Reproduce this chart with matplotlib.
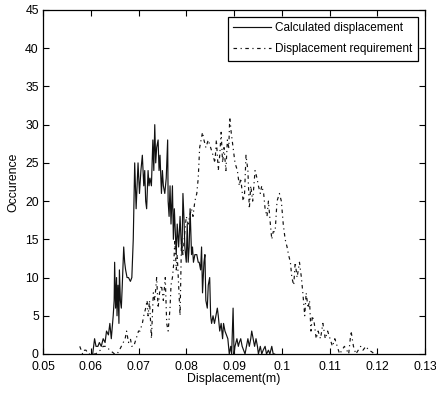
import matplotlib
matplotlib.use("Agg")
import matplotlib.pyplot as plt
from matplotlib import font_manager

# Calculated displacement (solid)
calc_x = [0.0604, 0.0608, 0.0611, 0.0615, 0.0618, 0.0622, 0.0626, 0.0630, 0.0633, 0.0637,
          0.0640, 0.0643, 0.0645, 0.0647, 0.0649, 0.0650, 0.0652, 0.0654, 0.0655, 0.0657,
          0.0659, 0.0660, 0.0662, 0.0664, 0.0666, 0.0669, 0.0671, 0.0673, 0.0676, 0.0679,
          0.0683, 0.0686, 0.0689, 0.0692, 0.0695, 0.0697, 0.0699, 0.0702, 0.0705, 0.0708,
          0.0711, 0.0713, 0.0715, 0.0717, 0.0720, 0.0722, 0.0724, 0.0727, 0.0730, 0.0732,
          0.0734, 0.0736, 0.0738, 0.0741, 0.0743, 0.0745, 0.0748, 0.0750, 0.0752, 0.0755,
          0.0758, 0.0761, 0.0762, 0.0764, 0.0766, 0.0768, 0.0771, 0.0773, 0.0775, 0.0777,
          0.0779, 0.0781, 0.0784, 0.0787, 0.0789, 0.0791, 0.0793, 0.0795, 0.0797, 0.0800,
          0.0802, 0.0804, 0.0806, 0.0808, 0.0811, 0.0813, 0.0815, 0.0818, 0.0822, 0.0825,
          0.0827, 0.0830, 0.0832, 0.0834, 0.0837, 0.0839, 0.0841, 0.0844, 0.0846, 0.0849,
          0.0851, 0.0853, 0.0856, 0.0859, 0.0862, 0.0865, 0.0867, 0.0870, 0.0873, 0.0876,
          0.0878, 0.0881, 0.0884, 0.0887, 0.0890, 0.0893, 0.0895, 0.0898, 0.0900, 0.0902,
          0.0906, 0.0909, 0.0911, 0.0914, 0.0917, 0.0920, 0.0923, 0.0926, 0.0929, 0.0932,
          0.0935, 0.0937, 0.0940, 0.0943, 0.0946, 0.0949, 0.0951, 0.0955, 0.0958, 0.0961,
          0.0965, 0.0968, 0.0972, 0.0975, 0.0979, 0.0982, 0.0985]
calc_y = [0, 2, 1, 1, 1.5, 1, 2, 1.5, 3, 2.5,
          4, 2, 3.5, 5, 7, 12, 6, 10, 5, 9,
          4, 11, 7, 6, 9, 14, 12, 11, 10, 10,
          9.5, 10, 15, 25, 19, 22, 25, 21, 24, 26,
          22, 24, 20, 19, 24, 22, 23, 22, 28, 24,
          30, 25, 27, 28, 24, 26, 21, 24, 22, 21,
          23, 28, 20, 18, 22, 17, 22, 15, 19, 16,
          13, 17, 14, 18, 15, 13, 21, 18, 14, 12,
          17, 12, 14, 19, 13, 14, 12, 13, 13, 12,
          12, 11, 14, 8, 12, 13, 7, 6, 9, 10,
          5, 4, 5, 4, 5, 6, 5, 3, 4, 2,
          4, 3, 2.5, 2, 0, 1, 0, 6, 0, 1,
          2, 1, 1.5, 2, 1, 0.5, 0, 1, 2, 1,
          2, 3, 2, 1, 2, 1, 0, 1, 0, 0.5,
          1, 0, 0.5, 0, 1, 0, 0]

# Displacement requirement (dash-dot)
req_x = [0.0577, 0.0580, 0.0583, 0.0587, 0.0590, 0.0595, 0.0602, 0.0610, 0.0620, 0.0626,
         0.0632, 0.0640, 0.0650, 0.0655, 0.0660, 0.0664, 0.0668, 0.0672, 0.0675, 0.0679,
         0.0683, 0.0686, 0.0690, 0.0695, 0.0700, 0.0703, 0.0708, 0.0711, 0.0715, 0.0718,
         0.0720, 0.0723, 0.0727, 0.0731, 0.0734, 0.0738, 0.0741, 0.0744, 0.0748, 0.0752,
         0.0756, 0.0759, 0.0762, 0.0766, 0.0768, 0.0771, 0.0774, 0.0776, 0.0779, 0.0781,
         0.0784, 0.0787, 0.0790, 0.0793, 0.0797, 0.0800, 0.0804, 0.0807, 0.0811, 0.0814,
         0.0818, 0.0822, 0.0825, 0.0828, 0.0831, 0.0834, 0.0837, 0.0841, 0.0846, 0.0851,
         0.0856, 0.0860, 0.0863, 0.0867, 0.0870, 0.0873, 0.0876, 0.0879, 0.0883, 0.0886,
         0.0889, 0.0891, 0.0894, 0.0898, 0.0902, 0.0907, 0.0911, 0.0914, 0.0919, 0.0922,
         0.0925, 0.0929, 0.0932, 0.0935, 0.0939, 0.0944, 0.0948, 0.0951, 0.0955, 0.0958,
         0.0962, 0.0965, 0.0969, 0.0972, 0.0976, 0.0979, 0.0982, 0.0986, 0.0990, 0.0995,
         0.0999, 0.1003, 0.1007, 0.1011, 0.1014, 0.1018, 0.1021, 0.1025, 0.1028, 0.1032,
         0.1037, 0.1041, 0.1044, 0.1048, 0.1051, 0.1055, 0.1058, 0.1061, 0.1064, 0.1068,
         0.1072, 0.1076, 0.1081, 0.1086, 0.1091, 0.1096, 0.1101, 0.1106, 0.1111, 0.1116,
         0.1121, 0.1126, 0.1131, 0.1136, 0.1140, 0.1145, 0.1150, 0.1155, 0.1160, 0.1165,
         0.1170, 0.1176, 0.1182, 0.1188, 0.1194, 0.1199]
req_y = [1, 0.5, 0, 0.5, 0.5, 0, 0, 0, 0.5, 1,
         1, 0.5, 0, 0, 0.5, 1, 1.5, 2, 3, 1.5,
         2, 1, 1, 2, 3, 3, 4, 5, 6, 7,
         5, 7, 2, 8, 7, 10, 6, 8, 9, 7,
         10, 4, 3, 6, 9, 10, 12, 15, 11, 13,
         9, 5, 15, 13, 16, 18, 17, 18, 19, 18,
         20, 21, 23, 27, 28, 29, 28, 27, 28, 27,
         26, 25, 28, 24, 26, 29, 25, 27, 24, 28,
         27, 31, 29, 27, 25, 24, 22, 23, 20, 21,
         26, 24, 19, 22, 20, 24, 23, 22, 21, 22,
         21, 19, 18, 20, 17, 15, 16, 16, 20, 21,
         20, 17, 15, 14, 13, 12, 10, 9, 12, 10,
         12, 10, 8, 5, 8, 6, 7, 3, 5, 4,
         2, 3, 2, 4, 2, 3, 2, 1, 2, 1,
         0, 0.5, 1, 0.5, 0, 3, 1, 0, 0.5, 1,
         0.5, 1, 0.5, 0.3, 0, 0]

xticks = [0.05, 0.06, 0.07, 0.08, 0.09, 0.10, 0.11, 0.12, 0.13]
xtick_labels = ['0.05', '0.06', '0.07', '0.08', '0.09', '0.1', '0.11', '0.12', '0.13']
yticks = [0, 5, 10, 15, 20, 25, 30, 35, 40, 45]

names = {f.name for f in font_manager.fontManager.ttflist}
fam = 'Liberation Sans Narrow' if 'Liberation Sans Narrow' in names else 'Liberation Sans'
plt.rcParams['font.family'] = [fam, 'DejaVu Sans']
plt.rcParams['font.size'] = 8.8

fig = plt.figure(figsize=(4.36, 3.95), dpi=100)
ax = fig.add_axes([0.0986, 0.1038, 0.8764, 0.8709])

ax.plot(calc_x, calc_y, color='#111111', linewidth=0.85, linestyle='-', label='Calculated displacement')
ax.plot(req_x, req_y, color='#111111', linewidth=0.85, linestyle=(0, (3, 3, 1, 3)), label='Displacement requirement')

ax.set_xlim(0.05, 0.13)
ax.set_ylim(0, 45)
ax.set_xticks(xticks)
ax.set_xticklabels(xtick_labels)
ax.set_yticks(yticks)
ax.tick_params(direction='in', top=True, right=True, length=4, width=0.8)
ax.tick_params(axis='x', pad=5)
ax.tick_params(axis='y', pad=3)
for s in ax.spines.values():
    s.set_linewidth(0.9)

ax.set_xlabel('Displacement(m)', labelpad=0)
ax.set_ylabel('Occurence', labelpad=4)

leg = ax.legend(loc='upper right', frameon=True, fancybox=False, edgecolor='black',
                framealpha=1, borderpad=0.45, handlelength=3.2, handletextpad=0.4,
                labelspacing=0.75, borderaxespad=0.6, fontsize=8.5)
leg.get_frame().set_linewidth(0.9)

fig.savefig('out.png', dpi=100)
